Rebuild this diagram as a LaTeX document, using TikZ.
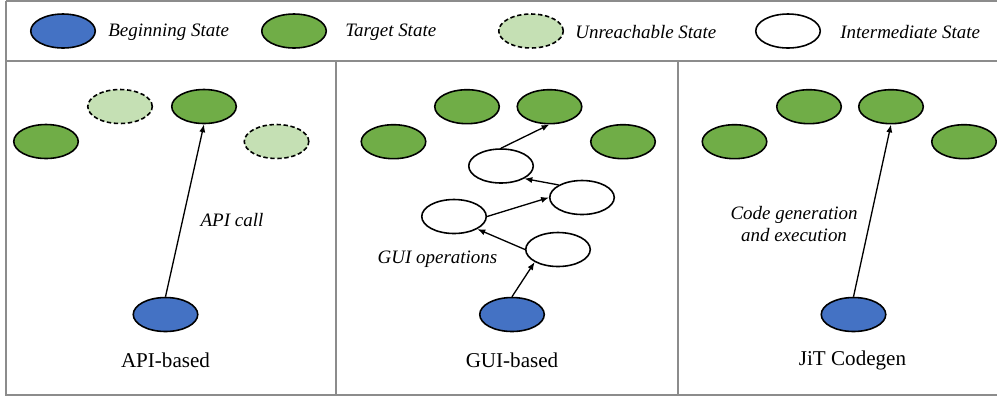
\documentclass[tikz,border=0pt]{standalone}
\usepackage{fontspec}
\setmainfont{Liberation Serif}
\usetikzlibrary{arrows.meta,shapes.geometric}

\definecolor{beginblue}{HTML}{4472C4}
\definecolor{targetgreen}{HTML}{70AD47}
\definecolor{lightgreen}{HTML}{C5E0B4}

\begin{document}
\begin{tikzpicture}[x=0.02cm,y=-0.02cm,
	state/.style={ellipse,draw,line width=0.9pt,minimum width=1.29cm,minimum height=0.68cm,inner sep=0pt},
	begin/.style={state,fill=beginblue},
	target/.style={state,fill=targetgreen},
	unreach/.style={state,fill=lightgreen,dash pattern=on 2.5pt off 1.5pt},
	inter/.style={state,fill=white},
	frame/.style={draw=black!45,line width=0.9pt},
	move/.style={-{Latex[length=4.5pt,width=3.5pt]},line width=0.75pt},
	legend/.style={anchor=west,inner sep=0pt,font=\fontsize{10.8}{13}\selectfont\itshape},
	opname/.style={inner sep=0pt,align=center,font=\fontsize{10.8}{13}\selectfont\itshape},
	title/.style={inner sep=0pt,font=\fontsize{12}{14}\selectfont}]
			\useasboundingbox (0,0) rectangle (997,397);
			
			% frame
			\draw[frame] (6,1) -- (997,1);
			\draw[frame] (6,61) -- (997,61);
			\draw[frame] (6,1) -- (6,395) -- (997,395);
			\draw[frame] (336,61) -- (336,395);
			\draw[frame] (678,61) -- (678,395);
			
			% legend
			\node[begin] (l0) at (63,31) {};
			\node[legend] (l0t) at (108,32) {Beginning State};
			\node[target] (l1) at (294,31) {};
			\node[legend] (l1t) at (345,32) {Target State};
			\node[unreach] (l2) at (531,31) {};
			\node[legend] (l2t) at (575,32) {Unreachable State};
			\node[inter] (l3) at (788,31) {};
			\node[legend] (l3t) at (840,32) {Intermediate State};
			
			% API-based
			\node[target] (a1) at (46,141.5) {};
			\node[unreach] (a2) at (120,106.5) {};
			\node[target] (a3) at (204,106.5) {};
			\node[unreach] (a4) at (276.5,141.5) {};
			\node[begin] (a0) at (165.5,314.5) {};
			\draw[move] (a0.north) -- (a3.south);
			\node[opname] (ac) at (232,220) {API call};
			\node[title] (at) at (165.5,360) {API-based};
			
			% GUI-based
			\node[target] (b1) at (393.5,141.7) {};
			\node[target] (b2) at (467,106.7) {};
			\node[target] (b3) at (549.5,106.7) {};
			\node[target] (b4) at (623,141.7) {};
			\node[inter] (w1) at (501,166) {};
			\node[inter] (w2) at (582,197.5) {};
			\node[inter] (w3) at (454,216.5) {};
			\node[inter] (w4) at (558,249.5) {};
			\node[begin] (b0) at (512,314.5) {};
			\draw[move] (b0.north) -- (w4.south west);
			\draw[move] (w4.west) -- (w3.south east);
			\draw[move] (w3.east) -- (w2.west);
			\draw[move] (w2.north west) -- (w1.south east);
			\draw[move] (w1.north) -- (b3.south);
			\node[opname] (bc) at (437.5,259) {GUI operations};
			\node[title] (bt) at (512,360) {GUI-based};
			
			% JiT Codegen
			\node[target] (c1) at (734.5,141.7) {};
			\node[target] (c2) at (809,106.7) {};
			\node[target] (c3) at (891,106.7) {};
			\node[target] (c4) at (964,141.7) {};
			\node[begin] (c0) at (853.5,314.5) {};
			\draw[move] (c0.north) -- (c3.south);
			\node[opname] (cc) at (794,224) {Code generation\\and execution};
			\node[title] (ct) at (852.5,360) {JiT Codegen};
		\end{tikzpicture}
\end{document}
